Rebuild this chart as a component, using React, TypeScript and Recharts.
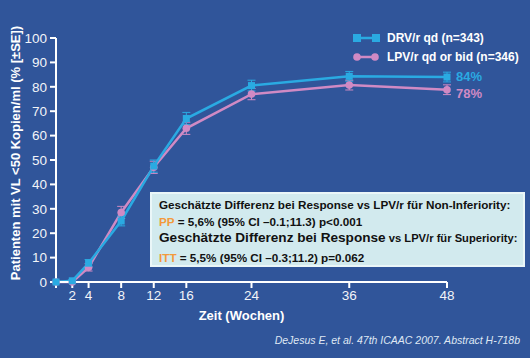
import React from 'react';
import { LineChart, Line, XAxis, YAxis, Label, Legend, ErrorBar, LabelList } from 'recharts';

const weeks = [0, 2, 4, 8, 12, 16, 24, 36, 48];
const drvValues = [0, 0.5, 7.7, 25, 47.5, 67, 80.5, 84.3, 84];
const lpvValues = [0, 0, 6, 28.5, 47, 63, 77, 80.7, 78.8];
const drvErrors = [0, 0.5, 1.5, 2, 2.5, 2.5, 2.2, 2, 2];
const lpvErrors = [0, 0, 1.5, 2.5, 2.5, 2.5, 2.3, 2, 2];
const xTicks = [0, 2, 4, 8, 12, 16, 24, 36, 48];
const yTicks = [0, 10, 20, 30, 40, 50, 60, 70, 80, 90, 100];
const seriesNames = ['DRV/r qd (n=343)', 'LPV/r qd or bid (n=346)'];
const endLabels = ['84%', '78%'];

const data = weeks.map((w, i) => ({
  week: w,
  drv: drvValues[i],
  lpv: lpvValues[i],
  drvErr: drvErrors[i],
  lpvErr: lpvErrors[i],
}));

const BG = '#30559a';
const CYAN = '#2aaae2';
const PINK = '#d08ac4';
const FONT = "Arial, 'Liberation Sans', sans-serif";

const squareDot = (props: any) => {
  const { cx, cy, index } = props;
  return <rect key={'s' + index} x={cx - 3.5} y={cy - 3.5} width={7} height={7} fill={CYAN} />;
};
const circleDot = (props: any) => {
  const { cx, cy, index } = props;
  return <circle key={'c' + index} cx={cx} cy={cy} r={3.8} fill={PINK} />;
};

const endLabel = (text: string, color: string, dy: number) => (props: any) => {
  const { x, y, index } = props;
  if (index !== data.length - 1) return null;
  return (
    <text x={x + 9} y={y + dy} fill={color} fontSize={13} fontWeight="bold" dominantBaseline="central" fontFamily={FONT}>
      {text}
    </text>
  );
};

const LegendBox = () => (
  <div style={{ fontFamily: FONT, fontWeight: 'bold', fontSize: 12, color: '#fff' }}>
    <div style={{ display: 'flex', alignItems: 'center', height: 19 }}>
      <svg width={28} height={10}>
        <line x1={3} x2={25} y1={5} y2={5} stroke={CYAN} strokeWidth={2.5} />
        <rect x={0} y={1} width={8} height={8} fill={CYAN} />
        <rect x={19} y={1} width={8} height={8} fill={CYAN} />
      </svg>
      <span style={{ marginLeft: 6 }}>{seriesNames[0]}</span>
    </div>
    <div style={{ display: 'flex', alignItems: 'center', height: 19 }}>
      <svg width={28} height={10}>
        <line x1={3} x2={25} y1={5} y2={5} stroke={PINK} strokeWidth={2.5} />
        <circle cx={4} cy={5} r={3.8} fill={PINK} />
        <circle cx={22} cy={5} r={3.8} fill={PINK} />
      </svg>
      <span style={{ marginLeft: 6 }}>{seriesNames[1]}</span>
    </div>
  </div>
);

const lineStyle = (top: number, h: number): React.CSSProperties => ({
  position: 'absolute',
  left: 7,
  top: top,
  height: h,
  lineHeight: h + 'px',
  whiteSpace: 'nowrap',
});

export default function App() {
  return (
    <div style={{ position: 'absolute', left: 0, top: 0, width: 530, height: 358, background: BG, overflow: 'hidden' }}>
      <LineChart width={530} height={358} data={data} margin={{ top: 38, right: 83, bottom: 40, left: 16 }}>
        <XAxis
          type="number"
          dataKey="week"
          domain={[0, 48]}
          ticks={xTicks}
          interval={0}
          tickFormatter={(v: number) => (v === 0 ? '' : String(v))}
          tickSize={6}
          tickMargin={2}
          height={36}
          axisLine={{ stroke: '#fff', strokeWidth: 2 }}
          tickLine={{ stroke: '#fff', strokeWidth: 2 }}
          tick={{ fill: '#f2f4f8', fontSize: 13.5, fontFamily: FONT }}
        >
          <Label
            value="Zeit (Wochen)"
            position="insideBottom"
            offset={-2}
            dx={-10}
            fill="#fff"
            fontSize={13}
            fontWeight="bold"
            fontFamily={FONT}
          />
        </XAxis>
        <YAxis
          type="number"
          domain={[0, 100]}
          ticks={yTicks}
          interval={0}
          width={40}
          tickSize={6}
          tickMargin={3}
          axisLine={{ stroke: '#fff', strokeWidth: 2 }}
          tickLine={{ stroke: '#fff', strokeWidth: 2 }}
          tick={{ fill: '#f2f4f8', fontSize: 13.5, fontFamily: FONT }}
        >
          <Label
            content={() => (
              <text
                x={15}
                y={153}
                transform="rotate(-90 15 153)"
                textAnchor="middle"
                dominantBaseline="central"
                fill="#fff"
                fontSize={13}
                fontWeight="bold"
                fontFamily={FONT}
              >
                Patienten mit VL &lt;50 Kopien/ml (% [±SE])
              </text>
            )}
          />
        </YAxis>
        <Legend
          layout="vertical"
          verticalAlign="middle"
          align="center"
          content={<LegendBox />}
          wrapperStyle={{ position: 'absolute', top: 28, left: 353, width: 180 }}
        />
        <Line
          dataKey="lpv"
          stroke={PINK}
          strokeWidth={2.5}
          dot={circleDot}
          activeDot={false}
          isAnimationActive={false}
        >
          <ErrorBar dataKey="lpvErr" width={4} strokeWidth={1} stroke={PINK} direction="y" />
          <LabelList dataKey="lpv" content={endLabel(endLabels[1], PINK, 4)} />
        </Line>
        <Line
          dataKey="drv"
          stroke={CYAN}
          strokeWidth={2.5}
          dot={squareDot}
          activeDot={false}
          isAnimationActive={false}
        >
          <ErrorBar dataKey="drvErr" width={4} strokeWidth={1} stroke={CYAN} direction="y" />
          <LabelList dataKey="drv" content={endLabel(endLabels[0], CYAN, -1)} />
        </Line>
      </LineChart>

      <div
        style={{
          position: 'absolute',
          left: 150,
          top: 192,
          width: 375,
          height: 75,
          boxSizing: 'border-box',
          border: '2px solid #eaf6f8',
          background: '#d2eaee',
          fontFamily: FONT,
          fontWeight: 'bold',
          color: '#111',
          fontSize: 11.7,
        }}
      >
        <div style={lineStyle(3, 16)}>Geschätzte Differenz bei Response vs LPV/r für Non-Inferiority:</div>
        <div style={lineStyle(20, 16)}>
          <span style={{ color: '#f39a3c' }}>PP</span> = 5,6% (95% CI –0.1;11.3) p&lt;0.001
        </div>
        <div style={{ ...lineStyle(35, 18), fontSize: 11.2 }}>
          <span style={{ fontSize: 13.6 }}>Geschätzte Differenz bei Response</span> vs LPV/r für Superiority:
        </div>
        <div style={lineStyle(55, 18)}>
          <span style={{ color: '#f39a3c' }}>ITT</span> = 5,5% (95% CI –0.3;11.2) p=0.062
        </div>
      </div>

      <div
        style={{
          position: 'absolute',
          right: 10,
          top: 333,
          lineHeight: '14px',
          fontFamily: FONT,
          fontStyle: 'italic',
          fontSize: 10.5,
          color: '#dfe7f3',
          whiteSpace: 'nowrap',
        }}
      >
        DeJesus E, et al. 47th ICAAC 2007. Abstract H-718b
      </div>
    </div>
  );
}
